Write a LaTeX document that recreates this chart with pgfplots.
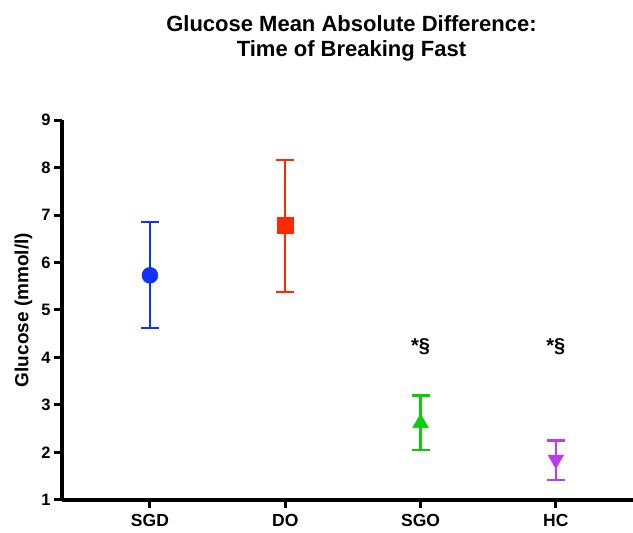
\documentclass[border=0pt]{standalone}
\usepackage{pgfplots}
\pgfplotsset{compat=1.18}
\usepackage{fontspec}
\setmainfont{Liberation Sans}
\definecolor{cblue}{RGB}{15,50,255}
\definecolor{cred}{RGB}{255,40,0}
\definecolor{cgreen}{RGB}{10,205,10}
\definecolor{cpurple}{RGB}{185,60,240}
\begin{document}
\begin{tikzpicture}
\path[use as bounding box] (-62pt,-33pt) rectangle (571pt,500pt);
\begin{axis}[
  scale only axis, width=571pt, height=380pt,
  anchor=south west, at={(0,0)},
  xmin=-0.65, xmax=3.57, ymin=1, ymax=9,
  axis x line*=bottom, axis y line*=left,
  axis line style={line width=3.2pt},
  xtick={0,1,2,3}, xticklabels={SGD,DO,SGO,HC},
  ytick={1,2,...,9},
  tick style={line width=3pt, black},
  major tick length=8pt,
  tick align=outside,
  /pgf/number format/assume math mode=true,
  yticklabel style={font=\fontsize{16.5}{18}\selectfont\bfseries},
  xticklabel style={font=\fontsize{17.5}{20}\selectfont\bfseries, yshift=-3pt},
  ylabel={Glucose (mmol/l)},
  ylabel style={font=\fontsize{19}{22}\selectfont\bfseries, yshift=2pt},
  clip=false,
  every axis plot/.append style={line width=2.3pt},
  error bars/error bar style={line width=2.3pt},
  error bars/error mark options={rotate=90, mark size=9pt, line width=2.3pt},
]
\addplot+[only marks, color=cblue, mark=*, mark size=8pt, mark options={fill=cblue, draw=cblue, line width=0.5pt},
  error bars/.cd, y dir=both, y explicit]
  coordinates {(0,5.73) += (0,1.12) -= (0,1.11)};
\addplot+[only marks, color=cred, mark=square*, mark size=8pt, mark options={fill=cred, draw=cred, line width=0.5pt},
  error bars/.cd, y dir=both, y explicit]
  coordinates {(1,6.78) += (0,1.38) -= (0,1.40)};
\addplot+[only marks, color=cgreen, mark=triangle*, mark size=9pt, mark options={fill=cgreen, draw=cgreen, line width=0.5pt},
  error bars/.cd, y dir=both, y explicit]
  coordinates {(2,2.62) += (0,0.58) -= (0,0.57)};
\addplot+[only marks, color=cpurple, mark=triangle*, mark size=9pt, mark options={fill=cpurple, draw=cpurple, rotate=180, line width=0.5pt},
  error bars/.cd, y dir=both, y explicit]
  coordinates {(3,1.85) += (0,0.40) -= (0,0.43)};
\node[font=\fontsize{20}{22}\selectfont\bfseries] at (axis cs:2,4.22) {*§};
\node[font=\fontsize{20}{22}\selectfont\bfseries] at (axis cs:3,4.22) {*§};
\node[font=\fontsize{22}{25}\selectfont\bfseries, align=center, anchor=north, inner sep=0pt] at (rel axis cs:0.507,1.0) [yshift=105pt] {Glucose Mean Absolute Difference:\\Time of Breaking Fast};
\end{axis}
\end{tikzpicture}
\end{document}
